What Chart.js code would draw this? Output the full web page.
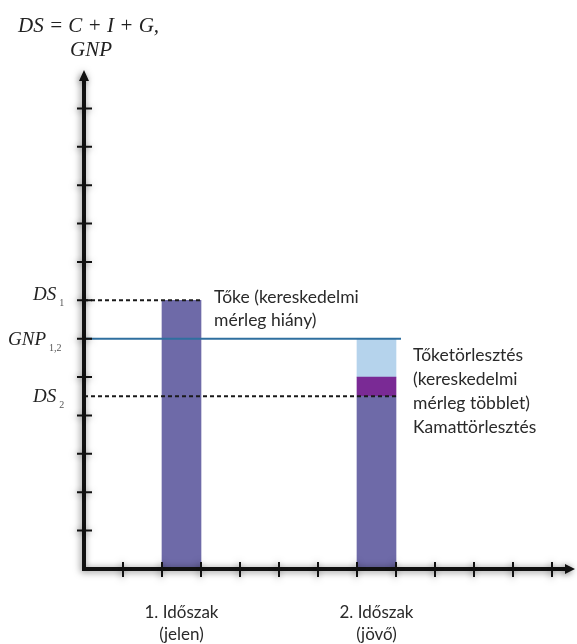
<!DOCTYPE html>
<html>
<head>
<meta charset="utf-8">
<script src="https://cdn.jsdelivr.net/npm/chart.js@4.4.0/dist/chart.umd.min.js"></script>
<style>
  html, body { margin: 0; padding: 0; background: #fff; }
  #wrap { width: 577px; height: 644px; }
</style>
</head>
<body>
<div id="wrap"><canvas id="chart"></canvas></div>
<script>
// one category per interval between two x ticks
const periods = ['', '', ['1. Időszak', '(jelen)'], '', '', '', '', ['2. Időszak', '(jövő)'], '', '', '', ''];
const demand    = [null, null, 7, null, null, null, null, 4.5, null, null, null, null];
const interest  = [null, null, null, null, null, null, null, 0.5, null, null, null, null];
const principal = [null, null, null, null, null, null, null, 1, null, null, null, null];
const yTicks = [1, 2, 3, 4, 5, 6, 7, 8, 9, 10, 11, 12];
const xTicks = [1, 2, 3, 4, 5, 6, 7, 8, 9, 10, 11, 12];
const ds1 = 7;
const gnp = 6;
const ds2 = 4.5;

const sansFamily = 'Lato, "Open Sans", sans-serif';

function seg(ctx, x1, y1, x2, y2) {
    ctx.beginPath();
    ctx.moveTo(x1, y1);
    ctx.lineTo(x2, y2);
    ctx.stroke();
}

function subLabel(ctx, main, sub, x, y) {
    ctx.font = 'italic 19px "Liberation Serif", "DejaVu Serif", serif';
    ctx.textAlign = 'left';
    ctx.textBaseline = 'alphabetic';
    ctx.fillStyle = '#222';
    ctx.fillText(main, x, y);
    const w = ctx.measureText(main).width;
    ctx.font = '10px "Liberation Serif", serif';
    ctx.fillStyle = '#555';
    ctx.fillText(sub, x + w + 3, y + 6);
}

const diagram = {
    id: 'diagram',
    afterDatasetsDraw(chart) {
        const { ctx, chartArea: a, scales: { x, y } } = chart;
        const bar1 = chart.getDatasetMeta(0).data[2];
        const bar2 = chart.getDatasetMeta(0).data[7];
        const right1 = bar1.x + bar1.width / 2;
        const right2 = bar2.x + bar2.width / 2;
        const yDs1 = y.getPixelForValue(ds1);
        const yDs2 = y.getPixelForValue(ds2);
        const yGnp = y.getPixelForValue(gnp);
        ctx.save();

        // level lines
        ctx.strokeStyle = '#1a1a1a';
        ctx.lineWidth = 2;
        ctx.setLineDash([4, 3]);
        seg(ctx, a.left, yDs1, right1, yDs1);
        seg(ctx, a.left, yDs2, right2, yDs2);
        ctx.setLineDash([]);
        ctx.strokeStyle = '#2f6f9f';
        seg(ctx, a.left, yGnp, right2 + 5, yGnp);

        // axes with soft shadow
        ctx.shadowColor = 'rgba(0,0,0,0.5)';
        ctx.shadowBlur = 7;
        ctx.shadowOffsetX = -1;
        ctx.shadowOffsetY = 1;
        ctx.strokeStyle = '#111';
        ctx.fillStyle = '#111';
        ctx.lineWidth = 4;
        ctx.beginPath();
        ctx.moveTo(a.left - 2, a.bottom);
        ctx.lineTo(chart.width - 8, a.bottom);
        ctx.moveTo(a.left, a.bottom + 2);
        ctx.lineTo(a.left, a.top + 8);
        ctx.stroke();
        ctx.beginPath();
        ctx.moveTo(chart.width - 2, a.bottom);
        ctx.lineTo(chart.width - 12, a.bottom - 5);
        ctx.lineTo(chart.width - 12, a.bottom + 5);
        ctx.closePath();
        ctx.moveTo(a.left, a.top);
        ctx.lineTo(a.left - 5, a.top + 11);
        ctx.lineTo(a.left + 5, a.top + 11);
        ctx.closePath();
        ctx.fill();

        // tick marks crossing the axes
        ctx.lineWidth = 2;
        ctx.beginPath();
        yTicks.forEach(v => {
            const py = y.getPixelForValue(v);
            ctx.moveTo(a.left - 7, py);
            ctx.lineTo(a.left + 8, py);
        });
        xTicks.forEach(v => {
            const px = x.getPixelForValue(v - 0.5);
            ctx.moveTo(px, a.bottom - 7);
            ctx.lineTo(px, a.bottom + 8);
        });
        ctx.stroke();
        ctx.shadowBlur = 0;
        ctx.shadowOffsetX = 0;
        ctx.shadowOffsetY = 0;
        ctx.shadowColor = 'transparent';

        // axis title and level labels
        ctx.fillStyle = '#222';
        ctx.font = 'italic 21px "Liberation Serif", "DejaVu Serif", serif';
        ctx.textAlign = 'left';
        ctx.textBaseline = 'alphabetic';
        ctx.fillText('DS = C + I + G,', 18, 32);
        ctx.fillText('GNP', 70, 56);
        subLabel(ctx, 'DS', '1', 33, yDs1);
        subLabel(ctx, 'GNP', '1,2', 8, yGnp + 6);
        subLabel(ctx, 'DS', '2', 33, yDs2 + 6);

        // annotations
        ctx.font = '17.5px ' + sansFamily;
        ctx.textBaseline = 'middle';
        ctx.fillStyle = '#2a2a2a';
        ctx.fillText('Tőke (kereskedelmi', right1 + 13, yDs1 - 3);
        ctx.fillText('mérleg hiány)', right1 + 13, yDs1 + 20);
        const notes = ['Tőketörlesztés', '(kereskedelmi', 'mérleg többlet)', 'Kamattörlesztés'];
        notes.forEach((t, i) => ctx.fillText(t, right2 + 17, yGnp + 17 + i * 24));
        ctx.restore();
    }
};

new Chart(document.getElementById('chart'), {
    type: 'bar',
    data: {
        labels: periods,
        datasets: [
            { label: 'DS', data: demand, backgroundColor: '#6e6aa8' },
            { label: 'Kamattörlesztés', data: interest, backgroundColor: '#7a2a95' },
            { label: 'Tőketörlesztés', data: principal, backgroundColor: '#b5d3ec' }
        ]
    },
    options: {
        responsive: true,
        maintainAspectRatio: false,
        animation: false,
        layout: { padding: { left: 84, top: 70, right: 25, bottom: 0 } },
        datasets: { bar: { categoryPercentage: 1, barPercentage: 1, borderWidth: 0 } },
        plugins: { legend: { display: false }, tooltip: { enabled: false } },
        scales: {
            x: {
                stacked: true,
                grid: { display: false, drawTicks: false },
                border: { display: false },
                afterFit(scale) { scale.height = 75; },
                ticks: {
                    autoSkip: false,
                    maxRotation: 0,
                    padding: 32,
                    color: '#2a2a2a',
                    font: { family: sansFamily, size: 17, lineHeight: 1.32 }
                }
            },
            y: {
                display: false,
                stacked: true,
                min: 0,
                max: 13
            }
        }
    },
    plugins: [diagram]
});
</script>
</body>
</html>
